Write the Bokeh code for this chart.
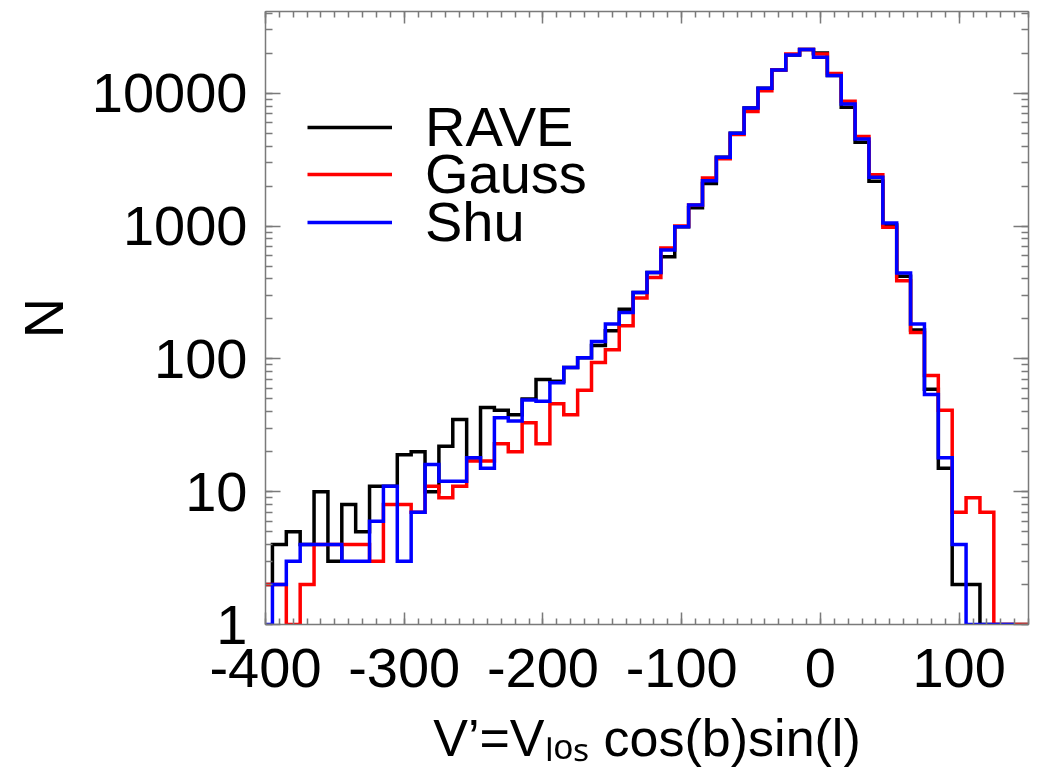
import numpy as np
from bokeh.plotting import figure
from bokeh.models import (Range1d, LinearAxis, LogAxis, LogTicker, SingleIntervalTicker,
                          Legend, LegendItem, CustomJSTickFormatter)
from bokeh.embed import file_html
from bokeh.resources import INLINE

# Histogram bin centres (km/s), 10 km/s bins
bin_centres = list(range(-400, 160, 10))

# Star counts per bin: observed RAVE sample and two model predictions
rave = [2, 4, 5, 4, 10, 3, 8, 5, 11, 11,
        19, 20, 10, 22, 35, 18, 43, 41, 38, 50,
        70, 68, 86, 102, 126, 163, 237, 316, 448, 588,
        990, 1374, 2094, 3296, 5000, 7762, 10900, 15000, 19460, 21340,
        20150, 13600, 7860, 4275, 2174, 1020, 420, 165, 59, 15,
        2, 2, 0, 0, 0, 0]
gauss = [2, 2, 0, 2, 4, 4, 4, 4, 3, 8,
         8, 7, 11, 9, 11, 17, 17, 23, 20, 33,
         23, 46, 38, 58, 94, 117, 178, 287, 410, 684,
         1000, 1440, 2306, 3217, 4900, 7280, 10470, 15000, 19800, 21340,
         19800, 14100, 8710, 4730, 2440, 980, 388, 158, 75, 41,
         7, 9, 7, 0, 0, 0]
shu = [0, 2, 3, 4, 4, 4, 3, 3, 6, 11,
       3, 7, 16, 12, 12, 18, 15, 36, 34, 49,
       48, 66, 86, 102, 135, 183, 224, 316, 448, 660,
       990, 1442, 2198, 3296, 5000, 7762, 10900, 15000, 19460, 21340,
       18680, 13600, 8320, 4530, 2330, 1055, 443, 183, 54, 18,
       4, 0, 0, 0, 0]

series_names = ["RAVE", "Gauss", "Shu"]
series_colors = ["#000000", "#ff0000", "#0000ff"]
x_tick_labels = ["-400", "-300", "-200", "-100", "0", "100"]
y_tick_labels = ["1", "10", "100", "1000", "10000"]
x_title = "V\u2019=V\u2097\u2092\u209b cos(b)sin(l)"
y_title = "N"

FONT = "Liberation Sans"
FS = "56px"
FRAME = "#7a7a7a"

p = figure(width=1037, height=769, output_backend="svg", toolbar_location=None,
           x_range=Range1d(-400, 150), y_range=Range1d(1, 41300), y_axis_type="log",
           min_border_left=265, min_border_right=9, min_border_top=11, min_border_bottom=145)
p.xgrid.visible = False
p.ygrid.visible = False
p.outline_line_color = FRAME
p.background_fill_color = "white"
p.border_fill_color = "white"

renderers = []
for counts, color in zip([rave, gauss, shu], series_colors):
    xs = bin_centres[:len(counts)]
    # empty bins sit on the axis floor of the log scale
    ys = np.maximum(np.array(counts, dtype=float), 1.0)
    r = p.step(xs, ys, mode="center", line_color=color, line_width=3.5, line_join="miter")
    renderers.append(r)

def style_axis(ax, ticker, tin, tmin, standoff=None):
    ax.ticker = ticker
    ax.axis_line_color = FRAME
    ax.axis_line_width = 1.5
    ax.major_tick_line_color = FRAME
    ax.minor_tick_line_color = FRAME
    ax.major_tick_line_width = 1.5
    ax.minor_tick_line_width = 1.5
    ax.major_tick_in = tin
    ax.major_tick_out = 0
    ax.minor_tick_in = tmin
    ax.minor_tick_out = 0
    if standoff is not None:
        ax.major_label_text_font = FONT
        ax.major_label_text_font_size = FS
        ax.major_label_text_color = "black"
        ax.major_label_standoff = standoff
    else:
        # mirrored frame axes carry ticks only
        ax.formatter = CustomJSTickFormatter(code="return ''")
        ax.major_label_standoff = 0

xa = p.xaxis[0]
ya = p.yaxis[0]
style_axis(xa, SingleIntervalTicker(interval=100, num_minor_ticks=10), 12, 6, standoff=24)
style_axis(ya, LogTicker(num_minor_ticks=10), 15, 7, standoff=18)
xa.major_label_overrides = {int(t): t for t in x_tick_labels}
ya.major_label_overrides = {int(t): t for t in y_tick_labels}

ya.axis_label = y_title
ya.axis_label_text_font = FONT
ya.axis_label_text_font_size = FS
ya.axis_label_text_font_style = "normal"
ya.axis_label_text_color = "black"
ya.axis_label_standoff = 14

xa.axis_label = x_title
xa.axis_label_text_font = FONT
xa.axis_label_text_font_size = "52px"
xa.axis_label_text_font_style = "normal"
xa.axis_label_text_color = "black"
xa.axis_label_standoff = 19

top = LinearAxis()
style_axis(top, SingleIntervalTicker(interval=100, num_minor_ticks=10), 12, 6)
p.add_layout(top, "above")
right = LogAxis()
style_axis(right, LogTicker(num_minor_ticks=10), 15, 7)
p.add_layout(right, "right")

# one single-row legend per series, stacked down the upper left of the frame
legend_rows = [465, 418, 370]
for name, r, row in zip(series_names, renderers, legend_rows):
    lg = Legend(items=[LegendItem(label=name, renderers=[r])],
                location=(42, row), padding=0, margin=0, spacing=0,
                glyph_width=85, glyph_height=20, label_height=20, label_standoff=33,
                label_text_font=FONT, label_text_font_size=FS, label_text_color="black",
                border_line_color=None, background_fill_alpha=0)
    p.add_layout(lg)

open("out.html", "w").write(file_html(p, INLINE))
